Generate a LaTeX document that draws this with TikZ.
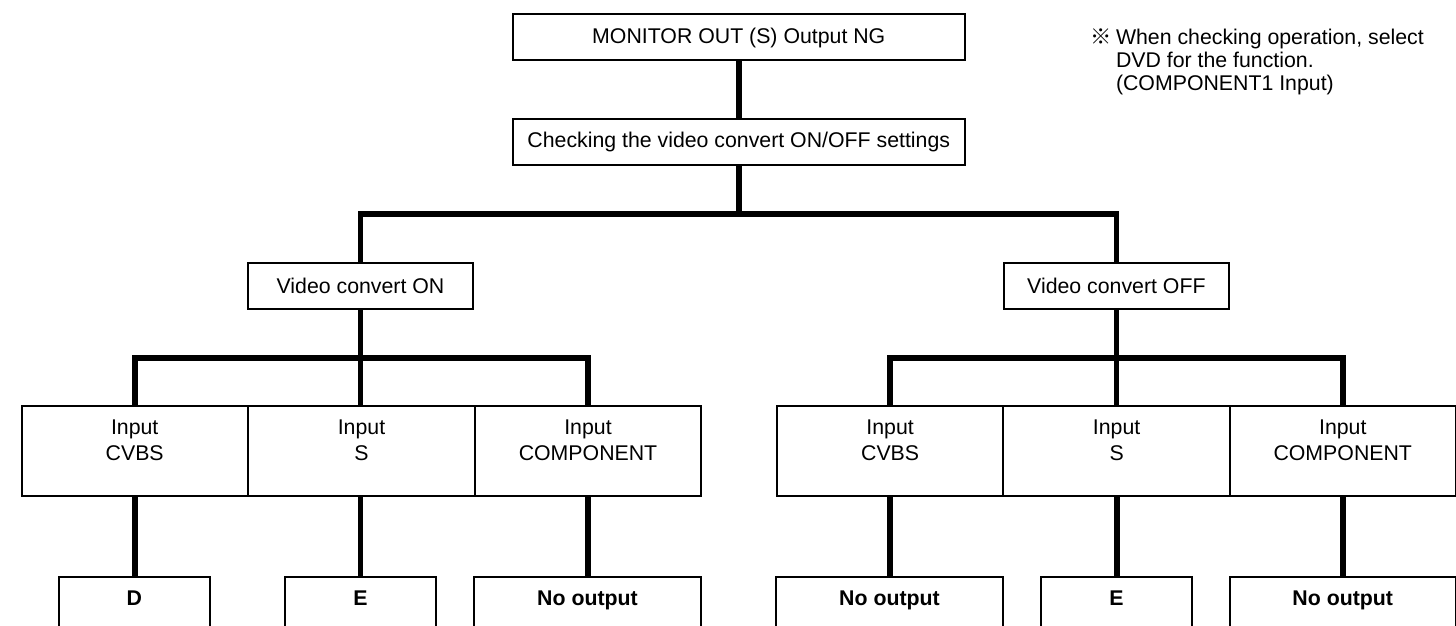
\documentclass[tikz,border=0pt]{standalone}
\usepackage{fontspec}
\setmainfont{Liberation Sans}
\newfontfamily\cjkfont{Noto Sans CJK JP}
\newcommand\myfont{\fontsize{21.3}{26}\selectfont}
\begin{document}
\begin{tikzpicture}[x=1pt,y=-1pt,
  box/.style={draw, line width=2pt, rectangle, inner sep=0pt, outer sep=0pt, font=\myfont},
  conn/.style={line width=5.7pt},
  txt/.style={inner sep=0pt, outer sep=0pt, font=\myfont},
  btxt/.style={inner sep=0pt, outer sep=0pt, font=\myfont\bfseries}]
\useasboundingbox (0,0) rectangle (1456,626);
\clip (0,0) rectangle (1456,626);
\fill[white] (0,0) rectangle (1456,626);

% top chain
\node[box, minimum width=452.5pt, minimum height=46pt] (top) at (738.75,37.5) {MONITOR OUT (S) Output NG};
\node[box, minimum width=452.5pt, minimum height=46pt] (check) at (738.75,142) {Checking the video convert ON/OFF settings};
\node[box, minimum width=225.6pt, minimum height=46.3pt] (on) at (360.5,285.8) {Video convert ON};
\node[box, minimum width=225.3pt, minimum height=46.3pt] (off) at (1116.4,285.8) {Video convert OFF};

% input boxes
\node[box, minimum width=226pt, minimum height=90.3pt] (i1) at (134.7,450.85) {};
\node[box, minimum width=227.6pt, minimum height=90.3pt] (i2) at (361.5,450.85) {};
\node[box, minimum width=225.4pt, minimum height=90.3pt] (i3) at (588,450.85) {};
\node[box, minimum width=226.3pt, minimum height=90.3pt] (i4) at (890.15,450.85) {};
\node[box, minimum width=226.7pt, minimum height=90.3pt] (i5) at (1116.65,450.85) {};
\node[box, minimum width=225.5pt, minimum height=90.3pt] (i6) at (1342.75,450.85) {};

\node[txt, anchor=base] (i1t) at (134.7,434.5) {\begin{tabular}[t]{@{}c@{}}Input\\CVBS\end{tabular}};
\node[txt, anchor=base] (i2t) at (361.5,434.5) {\begin{tabular}[t]{@{}c@{}}Input\\S\end{tabular}};
\node[txt, anchor=base] (i3t) at (588,434.5) {\begin{tabular}[t]{@{}c@{}}Input\\COMPONENT\end{tabular}};
\node[txt, anchor=base] (i4t) at (890.15,434.5) {\begin{tabular}[t]{@{}c@{}}Input\\CVBS\end{tabular}};
\node[txt, anchor=base] (i5t) at (1116.65,434.5) {\begin{tabular}[t]{@{}c@{}}Input\\S\end{tabular}};
\node[txt, anchor=base] (i6t) at (1342.75,434.5) {\begin{tabular}[t]{@{}c@{}}Input\\COMPONENT\end{tabular}};

% result boxes (cut by bottom edge)
\node[box, minimum width=151.3pt, minimum height=82.7pt] (r1) at (134.35,618.65) {};
\node[box, minimum width=150.7pt, minimum height=82.7pt] (r2) at (360.35,618.65) {};
\node[box, minimum width=226.4pt, minimum height=82.7pt] (r3) at (587.5,618.65) {};
\node[box, minimum width=227pt, minimum height=82.7pt] (r4) at (889.5,618.65) {};
\node[box, minimum width=151pt, minimum height=82.7pt] (r5) at (1116.5,618.65) {};
\node[box, minimum width=225.5pt, minimum height=82.7pt] (r6) at (1342.75,618.65) {};

\node[btxt, anchor=base] (r1t) at (134.35,605.5) {D};
\node[btxt, anchor=base] (r2t) at (360.35,605.5) {E};
\node[btxt, anchor=base] (r3t) at (587.5,605.5) {No output};
\node[btxt, anchor=base] (r4t) at (889.5,605.5) {No output};
\node[btxt, anchor=base] (r5t) at (1116.5,605.5) {E};
\node[btxt, anchor=base] (r6t) at (1342.75,605.5) {No output};

% note
\node[txt, anchor=base west] (note) at (1090,44.2) {\fontsize{21.3}{23.3}\selectfont\setlength\tabcolsep{0pt}\begin{tabular}[t]{@{}l@{}l@{}}\makebox[26pt][l]{\cjkfont ※} & When checking operation, select\\ & DVD for the function.\\ & (COMPONENT1 Input)\end{tabular}};

% connectors
\coordinate (b1) at (738.75,214.3);
\coordinate (b2) at (360.5,357.7);
\coordinate (b3) at (1116.4,357.7);
\draw[conn] (top.south) -- (check.north);
\draw[conn] (check.south) -- (b1);
\draw[conn] (on.north) -- (on.north |- b1) -- (off.north |- b1) -- (off.north);
\draw[conn] (on.south) -- (on.south |- i2.north);
\draw[conn] (i1.north) -- (i1.north |- b2) -- (i3.north |- b2) -- (i3.north);
\draw[conn] (off.south) -- (off.south |- i5.north);
\draw[conn] (i4.north) -- (i4.north |- b3) -- (i6.north |- b3) -- (i6.north);
\draw[conn] (i1.south) -- (i1.south |- r1.north);
\draw[conn] (i2.south -| r2.north) -- (r2.north);
\draw[conn] (i3.south) -- (i3.south |- r3.north);
\draw[conn] (i4.south) -- (i4.south |- r4.north);
\draw[conn] (i5.south) -- (i5.south |- r5.north);
\draw[conn] (i6.south) -- (i6.south |- r6.north);
\end{tikzpicture}
\end{document}
